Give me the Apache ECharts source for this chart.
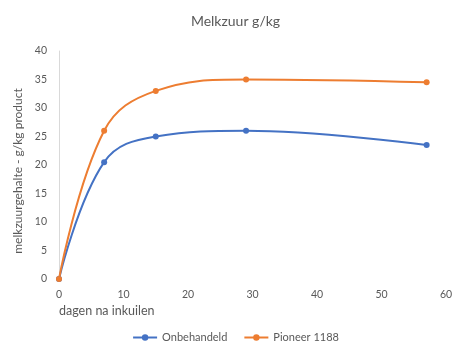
<!DOCTYPE html>
<html lang="nl">
<head>
    <meta charset="UTF-8">
    <title>Melkzuur g/kg</title>
    <style>
        body{ margin: 0; background: #fff; }
        #main{ width: 471px; height: 351px; }
    </style>
</head>
<body>
<div id="main"></div>
<script src="https://cdn.jsdelivr.net/npm/echarts@6/dist/echarts.min.js"></script>
<script>
    const myChart = echarts.init(document.getElementById('main'));

    // dagen na inkuilen
    const days = [0, 7, 15, 29, 57];
    // melkzuur g/kg
    const onbehandeld = [0, 20.5, 25, 26, 23.5];
    const pioneer = [0, 26, 33, 35, 34.5];

    const textColor = '#595959';
    const font = 'Lato';

    const pairs = vals => days.map((d, i) => [d, vals[i]]);

    const option = {
        textStyle: { fontFamily: font, color: textColor },
        title: {
            text: 'Melkzuur g/kg',
            left: 'center',
            top: 9,
            textStyle: { fontFamily: font, fontSize: 14, fontWeight: 'normal', color: textColor }
        },
        grid: { left: 59, right: 25, top: 51, bottom: 72 },
        xAxis: {
            type: 'value',
            min: 0, max: 60, interval: 10,
            name: 'dagen na inkuilen',
            nameLocation: 'start',
            nameGap: 0,
            nameTextStyle: { fontSize: 12.5, color: textColor, align: 'left', verticalAlign: 'top', padding: [25, 0, 0, 0] },
            axisLine: { show: false },
            axisTick: { show: false },
            splitLine: { show: false },
            axisLabel: { fontSize: 10.5, color: textColor, margin: 10 }
        },
        yAxis: {
            type: 'value',
            min: 0, max: 40, interval: 5,
            name: 'melkzuurgehalte - g/kg product',
            nameLocation: 'middle',
            nameGap: 33,
            nameTextStyle: { fontSize: 12, color: textColor, padding: [0, 12, 0, 0] },
            axisLine: { show: true, lineStyle: { color: '#d9d9d9' } },
            axisTick: { show: false },
            splitLine: { show: false },
            axisLabel: { fontSize: 10.5, color: textColor, margin: 12 }
        },
        legend: {
            bottom: 3,
            left: 'center',
            itemWidth: 24,
            itemHeight: 8,
            itemGap: 16,
            textStyle: { fontSize: 11, color: textColor },
            data: ['Onbehandeld', 'Pioneer 1188']
        },
        series: [
            {
                name: 'Onbehandeld',
                type: 'line',
                smooth: 0.4,
                data: pairs(onbehandeld),
                symbol: 'circle',
                symbolSize: 6,
                color: '#4472C4',
                lineStyle: { width: 2 }
            },
            {
                name: 'Pioneer 1188',
                type: 'line',
                smooth: 0.4,
                data: pairs(pioneer),
                symbol: 'circle',
                symbolSize: 6,
                color: '#ED7D31',
                lineStyle: { width: 2 }
            }
        ]
    };

    myChart.setOption(option);
</script>
</body>
</html>
